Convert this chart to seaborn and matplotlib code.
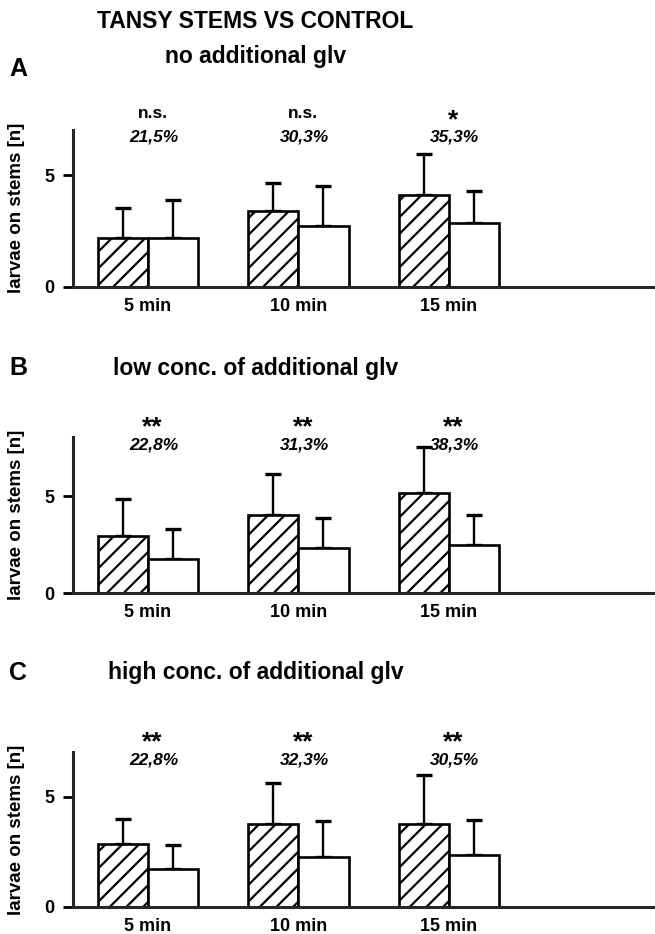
import numpy as np
import pandas as pd
import seaborn as sns
import matplotlib.pyplot as plt

# values (means and upper SD)
times = ['5 min', '10 min', '15 min']
groups = ['tansy', 'control']

a_tansy = [2.2, 3.4, 4.13]
a_tansy_sd = [1.33, 1.24, 1.83]
a_control = [2.2, 2.73, 2.88]
a_control_sd = [1.69, 1.81, 1.44]
a_sig = ['n.s.', 'n.s.', '*']
a_pct = ['21,5%', '30,3%', '35,3%']

b_tansy = [2.93, 4.02, 5.18]
b_tansy_sd = [1.94, 2.11, 2.38]
b_control = [1.76, 2.35, 2.5]
b_control_sd = [1.57, 1.55, 1.52]
b_sig = ['**', '**', '**']
b_pct = ['22,8%', '31,3%', '38,3%']

c_tansy = [2.85, 3.79, 3.79]
c_tansy_sd = [1.17, 1.84, 2.19]
c_control = [1.74, 2.27, 2.36]
c_control_sd = [1.06, 1.63, 1.6]
c_sig = ['**', '**', '**']
c_pct = ['22,8%', '32,3%', '30,5%']

sns.set_style('white')
plt.rcParams['font.family'] = ['Liberation Sans', 'DejaVu Sans']
plt.rcParams['font.weight'] = 'bold'
plt.rcParams['text.color'] = 'black'
plt.rcParams['axes.labelcolor'] = 'black'
plt.rcParams['xtick.color'] = 'black'
plt.rcParams['ytick.color'] = 'black'
plt.rcParams['hatch.linewidth'] = 1.6
plt.rcParams['hatch.color'] = 'black'

fig = plt.figure(figsize=(6.55, 9.34), dpi=100)

# letter, subtitle, data..., ylim top, axes rect, heading y (px from top)
panels = [
    ('A', 'no additional glv', a_tansy, a_tansy_sd, a_control, a_control_sd, a_sig, a_pct, 7.05, [0.111, 0.693, 0.889, 0.168], 56, 69),
    ('B', 'low conc. of additional glv', b_tansy, b_tansy_sd, b_control, b_control_sd, b_sig, b_pct, 8.05, [0.111, 0.365, 0.889, 0.167], 368, 368),
    ('C', 'high conc. of additional glv', c_tansy, c_tansy_sd, c_control, c_control_sd, c_sig, c_pct, 7.05, [0.111, 0.029, 0.889, 0.166], 673, 673),
]

for letter, subtitle, tansy, tansy_sd, control, control_sd, sig, pct, ytop, rect, sub_y, let_y in panels:
    ax = fig.add_axes(rect)
    df = pd.DataFrame({
        'time': times * 2,
        'group': [groups[0]] * 3 + [groups[1]] * 3,
        'value': tansy + control,
        'sd': tansy_sd + control_sd,
    })
    sns.barplot(data=df, x='time', y='value', hue='group', order=times, hue_order=groups,
                palette=['white', 'white'], width=0.667, errorbar=None, legend=False,
                edgecolor='black', linewidth=1.9, ax=ax)
    # hatch the tansy bars, draw one-sided error bars
    for i, bar in enumerate(ax.patches[:6]):
        if i < 3:
            bar.set_hatch('//')
        x = bar.get_x() + bar.get_width() / 2
        h = bar.get_height()
        sd = df['sd'].iloc[i]
        ax.errorbar(x, h, yerr=[[0], [sd]], fmt='none', ecolor='black',
                    elinewidth=1.7, capsize=6, capthick=2.4, zorder=1)
        bar.set_zorder(2)

    ax.set_xlim(-0.5, 3.37)
    ax.set_ylim(0, ytop)
    ax.set_yticks([0, 5])
    ax.set_xlabel('')
    ax.set_ylabel('larvae on stems [n]', fontsize=13.5, fontweight='bold', labelpad=14)
    ax.tick_params(axis='y', length=7, width=2, labelsize=13, pad=6, left=True)
    ax.tick_params(axis='x', length=0, labelsize=13, pad=8)
    for lab in ax.get_xticklabels() + ax.get_yticklabels():
        lab.set_fontweight('bold')
    sns.despine(ax=ax)
    for s in ['left', 'bottom']:
        ax.spines[s].set_linewidth(2.2)

    for k in range(3):
        ns = sig[k] == 'n.s.'
        ax.annotate(sig[k], xy=(k + 0.03, 1), xycoords=('data', 'axes fraction'),
                    xytext=(0, 12 if ns else 7), textcoords='offset points',
                    ha='center', va='center', fontsize=12.5 if ns else 19,
                    fontweight='bold', annotation_clip=False)
        ax.annotate(pct[k], xy=(k + 0.04, 1), xycoords=('data', 'axes fraction'),
                    xytext=(0, -5.5), textcoords='offset points',
                    ha='center', va='center', fontsize=12.5, fontstyle='italic',
                    fontweight='bold', annotation_clip=False)

    fig.text(0.39, 1 - sub_y / 934, subtitle, ha='center', va='center', fontsize=16.5, fontweight='bold')
    fig.text(0.028, 1 - let_y / 934, letter, ha='center', va='center', fontsize=18, fontweight='bold')

fig.text(0.39, 1 - 21 / 934, 'TANSY STEMS VS CONTROL', ha='center', va='center', fontsize=16.5, fontweight='bold')

fig.savefig('out.png', dpi=100)
